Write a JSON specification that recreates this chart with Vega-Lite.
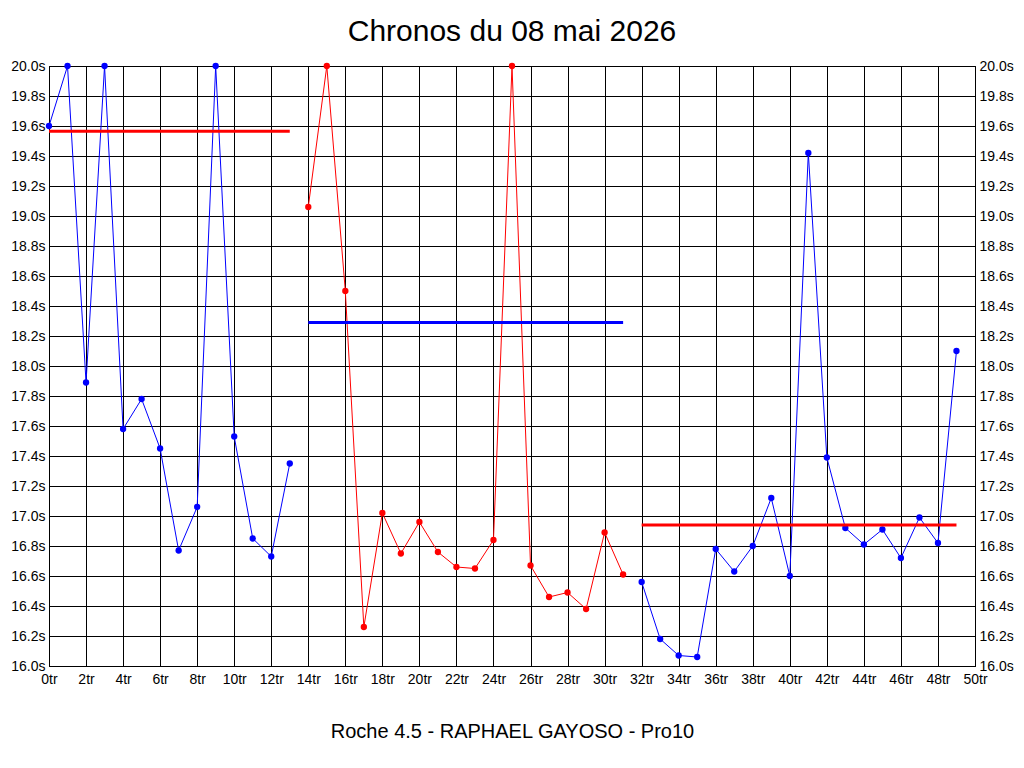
{
  "$schema": "https://vega.github.io/schema/vega-lite/v6.json",
  "width": 926,
  "height": 600,
  "autosize": {"type": "none"},
  "padding": {"left": 49, "top": 66, "right": 49, "bottom": 102},
  "background": "white",
  "title": {
    "text": "Chronos du 08 mai 2026",
    "fontSize": 30,
    "fontWeight": "normal",
    "font": "Liberation Sans",
    "color": "black",
    "anchor": "middle",
    "offset": 12
  },
  "datasets": {
    "tours": [
      {"tour": 0, "temps": 19.60, "manche": 1},
      {"tour": 1, "temps": 20.00, "manche": 1},
      {"tour": 2, "temps": 17.89, "manche": 1},
      {"tour": 3, "temps": 20.00, "manche": 1},
      {"tour": 4, "temps": 17.58, "manche": 1},
      {"tour": 5, "temps": 17.78, "manche": 1},
      {"tour": 6, "temps": 17.45, "manche": 1},
      {"tour": 7, "temps": 16.77, "manche": 1},
      {"tour": 8, "temps": 17.06, "manche": 1},
      {"tour": 9, "temps": 20.00, "manche": 1},
      {"tour": 10, "temps": 17.53, "manche": 1},
      {"tour": 11, "temps": 16.85, "manche": 1},
      {"tour": 12, "temps": 16.73, "manche": 1},
      {"tour": 13, "temps": 17.35, "manche": 1},
      {"tour": 14, "temps": 19.06, "manche": 2},
      {"tour": 15, "temps": 20.00, "manche": 2},
      {"tour": 16, "temps": 18.50, "manche": 2},
      {"tour": 17, "temps": 16.26, "manche": 2},
      {"tour": 18, "temps": 17.02, "manche": 2},
      {"tour": 19, "temps": 16.75, "manche": 2},
      {"tour": 20, "temps": 16.96, "manche": 2},
      {"tour": 21, "temps": 16.76, "manche": 2},
      {"tour": 22, "temps": 16.66, "manche": 2},
      {"tour": 23, "temps": 16.65, "manche": 2},
      {"tour": 24, "temps": 16.84, "manche": 2},
      {"tour": 25, "temps": 20.00, "manche": 2},
      {"tour": 26, "temps": 16.67, "manche": 2},
      {"tour": 27, "temps": 16.46, "manche": 2},
      {"tour": 28, "temps": 16.49, "manche": 2},
      {"tour": 29, "temps": 16.38, "manche": 2},
      {"tour": 30, "temps": 16.89, "manche": 2},
      {"tour": 31, "temps": 16.61, "manche": 2},
      {"tour": 32, "temps": 16.56, "manche": 3},
      {"tour": 33, "temps": 16.18, "manche": 3},
      {"tour": 34, "temps": 16.07, "manche": 3},
      {"tour": 35, "temps": 16.06, "manche": 3},
      {"tour": 36, "temps": 16.78, "manche": 3},
      {"tour": 37, "temps": 16.63, "manche": 3},
      {"tour": 38, "temps": 16.80, "manche": 3},
      {"tour": 39, "temps": 17.12, "manche": 3},
      {"tour": 40, "temps": 16.60, "manche": 3},
      {"tour": 41, "temps": 19.42, "manche": 3},
      {"tour": 42, "temps": 17.39, "manche": 3},
      {"tour": 43, "temps": 16.92, "manche": 3},
      {"tour": 44, "temps": 16.81, "manche": 3},
      {"tour": 45, "temps": 16.91, "manche": 3},
      {"tour": 46, "temps": 16.72, "manche": 3},
      {"tour": 47, "temps": 16.99, "manche": 3},
      {"tour": 48, "temps": 16.82, "manche": 3},
      {"tour": 49, "temps": 18.10, "manche": 3}
    ],
    "moyennes": [
      {"manche": 1, "debut": 0, "fin": 13, "moyenne": 19.565},
      {"manche": 2, "debut": 14, "fin": 31, "moyenne": 18.29},
      {"manche": 3, "debut": 32, "fin": 49, "moyenne": 16.94}
    ]
  },
  "layer": [
    {
      "data": {"name": "tours"},
      "mark": {
        "type": "line",
        "strokeWidth": 1,
        "point": {"filled": true, "size": 40, "opacity": 1}
      },
      "encoding": {
        "x": {
          "field": "tour",
          "type": "quantitative",
          "scale": {"domain": [0, 50], "nice": false, "zero": false},
          "axis": {
            "values": [0, 2, 4, 6, 8, 10, 12, 14, 16, 18, 20, 22, 24, 26, 28, 30, 32, 34, 36, 38, 40, 42, 44, 46, 48, 50],
            "labelExpr": "datum.value + 'tr'",
            "labelFlush": false,
            "labelOverlap": false,
            "labelPadding": 6,
            "title": "Roche 4.5 - RAPHAEL GAYOSO - Pro10",
            "titleFontSize": 20,
            "titleFontWeight": "normal",
            "titlePadding": 35
          }
        },
        "y": {
          "field": "temps",
          "type": "quantitative",
          "scale": {"domain": [16, 20], "nice": false, "zero": false},
          "axis": {
            "orient": "left",
            "values": [16, 16.2, 16.4, 16.6, 16.8, 17, 17.2, 17.4, 17.6, 17.8, 18, 18.2, 18.4, 18.6, 18.8, 19, 19.2, 19.4, 19.6, 19.8, 20],
            "labelExpr": "format(datum.value, '.1f') + 's'",
            "labelPadding": 4,
            "title": null
          }
        },
        "color": {
          "field": "manche",
          "type": "nominal",
          "scale": {"domain": [1, 2, 3], "range": ["#0000ff", "#ff0000", "#0000ff"]},
          "legend": null
        }
      }
    },
    {
      "data": {"name": "moyennes"},
      "mark": {"type": "rule", "strokeWidth": 3},
      "encoding": {
        "x": {
          "field": "debut",
          "type": "quantitative",
          "axis": {
            "values": [0, 2, 4, 6, 8, 10, 12, 14, 16, 18, 20, 22, 24, 26, 28, 30, 32, 34, 36, 38, 40, 42, 44, 46, 48, 50],
            "labelExpr": "datum.value + 'tr'",
            "labelFlush": false,
            "labelOverlap": false,
            "labelPadding": 6,
            "title": "Roche 4.5 - RAPHAEL GAYOSO - Pro10",
            "titleFontSize": 20,
            "titleFontWeight": "normal",
            "titlePadding": 35
          }
        },
        "x2": {"field": "fin"},
        "y": {
          "field": "moyenne",
          "type": "quantitative",
          "axis": {
            "orient": "right",
            "values": [16, 16.2, 16.4, 16.6, 16.8, 17, 17.2, 17.4, 17.6, 17.8, 18, 18.2, 18.4, 18.6, 18.8, 19, 19.2, 19.4, 19.6, 19.8, 20],
            "labelExpr": "format(datum.value, '.1f') + 's'",
            "labelPadding": 4,
            "grid": false,
            "title": null
          }
        },
        "color": {
          "field": "manche",
          "type": "nominal",
          "scale": {"domain": [1, 2, 3], "range": ["#ff0000", "#0000ff", "#ff0000"]},
          "legend": null
        }
      }
    }
  ],
  "resolve": {
    "scale": {"color": "independent"},
    "axis": {"y": "independent"}
  },
  "config": {
    "font": "Liberation Sans",
    "view": {"stroke": "black", "strokeWidth": 1},
    "axis": {
      "grid": true,
      "gridColor": "black",
      "gridOpacity": 1,
      "gridWidth": 1,
      "domainColor": "black",
      "domainWidth": 1,
      "ticks": false,
      "tickSize": 0,
      "labelFont": "Liberation Sans",
      "labelFontSize": 14,
      "labelColor": "black",
      "titleFont": "Liberation Sans",
      "titleColor": "black"
    }
  }
}
